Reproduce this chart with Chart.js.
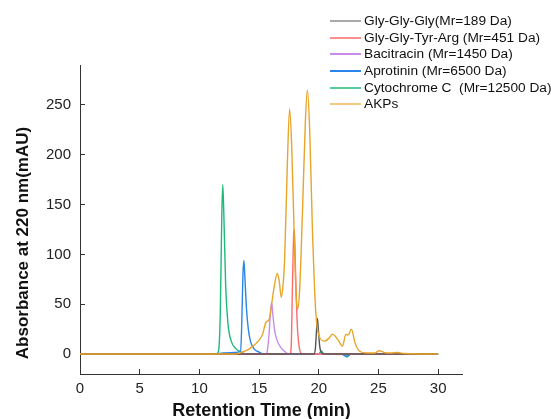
<!DOCTYPE html>
<html>
<head>
<meta charset="utf-8">
<script src="https://cdn.jsdelivr.net/npm/chart.js@4.4.1/dist/chart.umd.min.js"></script>
<style>
  html, body { margin: 0; padding: 0; background: #fff; }
  #wrap { position: relative; width: 551px; height: 419px; }
</style>
</head>
<body>
<div id="wrap"><canvas id="chrom"></canvas></div>
<script>
// Series labels & colours
const seriesNames = [
    'Gly-Gly-Gly(Mr=189 Da)',
    'Gly-Gly-Tyr-Arg (Mr=451 Da)',
    'Bacitracin (Mr=1450 Da)',
    'Aprotinin (Mr=6500 Da)',
    'Cytochrome C  (Mr=12500 Da)',
    'AKPs'
];
const seriesColors = ['#555555', '#ff6b6b', '#c98de9', '#2a86e8', '#1fb97a', '#e8a52a'];

// Retention time (min) / absorbance (mAU)
const glyGlyGlyT = [0, 19.6, 19.72, 19.82, 19.89, 19.97, 20.08, 20.2, 20.4, 30];
const glyGlyGlyY = [0, 0, 6, 25, 35.8, 24, 8, 2, 0, 0];

const ggtaT = [0, 17.6, 17.7, 17.8, 17.9, 17.96, 18.05, 18.2, 18.35, 18.6, 30];
const ggtaY = [0, 0, 10, 70, 120, 125, 85, 30, 8, 0, 0];

const bacitracinT = [0, 15.55, 15.7, 15.85, 15.95, 16.05, 16.15, 16.3, 16.5, 16.8, 17.1, 17.5, 30];
const bacitracinY = [0, 0, 4, 22, 42, 52, 40, 24, 14, 7, 3, 0, 0];

const aprotininT = [0, 11.3, 12.0, 13.0, 13.45, 13.55, 13.65, 13.73, 13.82, 13.95, 14.1, 14.3, 14.6, 15.0, 15.4, 21.9, 22.3, 22.7, 30];
const aprotininY = [0, 0, 1, 1.5, 3, 30, 80, 94, 75, 45, 25, 12, 5, 2, 0, 0, -2, 0, 0];

const cytochromeT = [0, 11.4, 11.6, 11.75, 11.88, 11.96, 12.05, 12.2, 12.4, 12.7, 13.0, 13.5, 14, 20.0, 20.2, 20.5, 22.0, 22.35, 22.7, 30];
const cytochromeY = [0, 0, 3, 40, 140, 170, 140, 70, 30, 12, 6, 2, 0, 0, 3, 0, 0, -3, 0, 0];

const akpsT = [0, 13.0, 13.45, 14.0, 14.5, 15.0, 15.3, 15.55, 15.88, 16.1, 16.3, 16.53, 16.7, 16.86, 17.0, 17.14, 17.37, 17.56, 17.73, 17.93, 18.1, 18.21, 18.38, 18.63, 18.88, 19.05, 19.24, 19.47, 19.75, 20.03, 20.45, 20.87, 21.15, 21.57, 21.99, 22.27, 22.46, 22.74, 23.02, 23.39, 24.0, 24.7, 25.07, 25.5, 26.0, 26.6, 27.2, 30];
const akpsY = [0, 0, 1.5, 4, 8, 14, 20, 31, 36, 54, 70, 81, 72, 57, 68, 94, 191, 246, 210, 125, 60, 45, 60, 140, 234, 265, 225, 125, 42, 18, 13, 16, 20, 15, 8, 20, 19, 25, 12, 3, 1, 1, 3.3, 1.5, 1, 1.5, 0.5, 0];

// Axis ticks
const xTicks = [0, 5, 10, 15, 20, 25, 30];
const yTicks = [0, 50, 100, 150, 200, 250];

const seriesT = [glyGlyGlyT, ggtaT, bacitracinT, aprotininT, cytochromeT, akpsT];
const seriesY = [glyGlyGlyY, ggtaY, bacitracinY, aprotininY, cytochromeY, akpsY];
const drawOrder = [1, 2, 3, 4, 5, 0];

function toPoints(ts, ys) {
    return ts.map((t, i) => ({ x: t, y: ys[i] }));
}

const datasets = seriesNames.map((name, i) => ({
    label: name,
    data: toPoints(seriesT[i], seriesY[i]),
    borderColor: seriesColors[i],
    borderWidth: 1.4,
    pointRadius: 0,
    fill: false,
    cubicInterpolationMode: 'monotone',
    order: drawOrder[i]
}));

// Legend drawn top right, over the plot corner
const legendPlugin = {
    id: 'sideLegend',
    afterDraw(chart) {
        const ctx = chart.ctx;
        const rows = [21, 38, 54, 71, 88, 104];
        const widths = [1, 1.5, 2, 2, 1.5, 1.2];
        ctx.save();
        ctx.font = '13.7px "Liberation Sans", Arial, sans-serif';
        ctx.textBaseline = 'middle';
        ctx.fillStyle = '#111';
        chart.data.datasets.forEach((ds, i) => {
            ctx.strokeStyle = ds.borderColor;
            ctx.lineWidth = widths[i];
            ctx.beginPath();
            ctx.moveTo(330, rows[i]);
            ctx.lineTo(361, rows[i]);
            ctx.stroke();
            ctx.fillText(ds.label, 364, rows[i] + 0.5);
        });
        ctx.restore();
    }
};

// Axis titles (placed off-centre, as in the original figure)
const axisTitlePlugin = {
    id: 'axisTitles',
    afterDraw(chart) {
        const ctx = chart.ctx;
        ctx.save();
        ctx.fillStyle = '#111';
        ctx.textAlign = 'center';
        ctx.textBaseline = 'middle';
        ctx.font = 'bold 18px "Liberation Sans", Arial, sans-serif';
        ctx.fillText('Retention Time (min)', 261.5, 411.5);
        ctx.translate(23, 243);
        ctx.rotate(-Math.PI / 2);
        ctx.font = 'bold 17px "Liberation Sans", Arial, sans-serif';
        ctx.fillText('Absorbance at 220 nm(mAU)', 0, 0);
        ctx.restore();
    }
};

const axisFont = { family: '"Liberation Sans", Arial, sans-serif', size: 15 };

new Chart(document.getElementById('chrom'), {
    type: 'line',
    data: { datasets: datasets },
    options: {
        responsive: true,
        maintainAspectRatio: false,
        animation: false,
        layout: { padding: { top: 65, right: 89, left: 0, bottom: 0 } },
        plugins: {
            legend: { display: false },
            tooltip: { enabled: false }
        },
        scales: {
            x: {
                type: 'linear',
                min: 0,
                max: 32,
                afterBuildTicks: (axis) => { axis.ticks = xTicks.map(v => ({ value: v })); },
                afterFit: (axis) => { axis.height = 45; },
                grid: { drawOnChartArea: false, drawTicks: true, tickLength: -5, color: '#333', lineWidth: 1 },
                border: { display: true, color: '#333', width: 1 },
                ticks: { color: '#222', font: axisFont, padding: 11 },
                title: { display: false }
            },
            y: {
                min: -20,
                max: 290,
                afterBuildTicks: (axis) => { axis.ticks = yTicks.map(v => ({ value: v })); },
                afterFit: (axis) => { axis.width = 80; },
                grid: { drawOnChartArea: false, drawTicks: true, tickLength: -5, color: '#333', lineWidth: 1 },
                border: { display: true, color: '#333', width: 1 },
                ticks: { color: '#222', font: axisFont, padding: 14 },
                title: { display: false }
            }
        }
    },
    plugins: [legendPlugin, axisTitlePlugin]
});
</script>
</body>
</html>
